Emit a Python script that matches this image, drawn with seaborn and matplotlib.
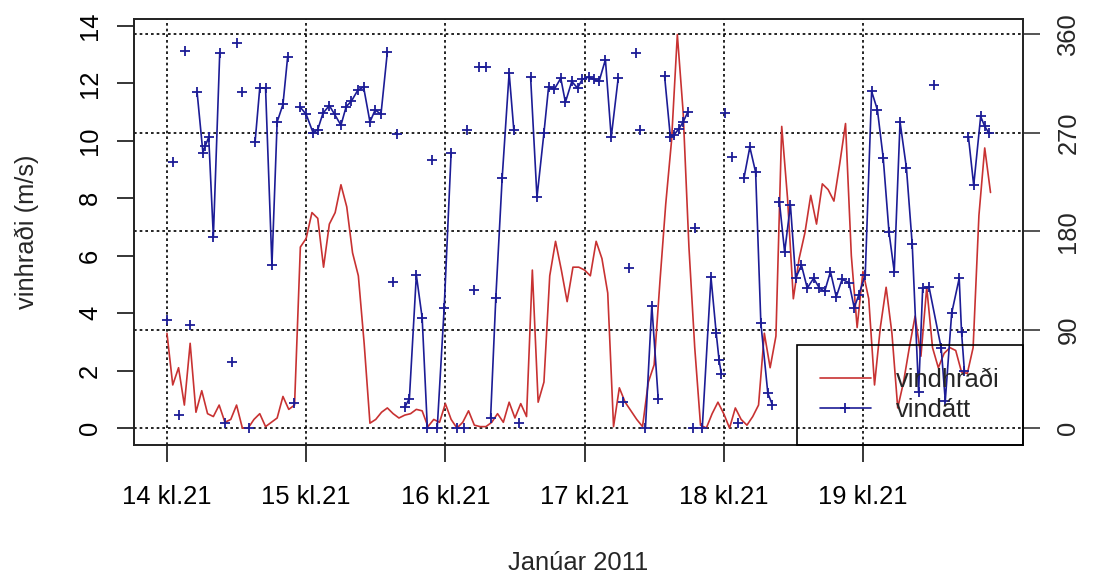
import numpy as np
import pandas as pd
import matplotlib
matplotlib.use("Agg")
import matplotlib.pyplot as plt
import seaborn as sns
from matplotlib.lines import Line2D

nan = np.nan

# vindhraði (m/s), klukkutímagildi frá 14. jan kl.21
speed = [3.3, 1.5, 2.1, 0.8, 2.95, 0.55, 1.3, 0.5, 0.4, 0.8,
         0.2, 0.3, 0.8, 0.0, 0.0, 0.3, 0.5, 0.05, 0.2, 0.35,
         1.1, 0.65, 0.8, 6.3, 6.6, 7.5, 7.3, 5.6, 7.1, 7.5,
         8.47, 7.7, 6.1, 5.3, 2.95, 0.17, 0.3, 0.55, 0.7, 0.5,
         0.35, 0.45, 0.5, 0.65, 0.6, 0.05, 0.3, 0.2, 0.85, 0.3,
         0.0, 0.2, 0.6, 0.1, 0.05, 0.05, 0.2, 0.5, 0.2, 0.9,
         0.35, 0.85, 0.4, 5.5, 0.9, 1.6, 5.3, 6.5, 5.5, 4.4,
         5.6, 5.6, 5.5, 5.3, 6.5, 5.9, 4.7, 0.05, 1.4, 0.9,
         0.6, 0.3, 0.05, 1.6, 2.2, 5.1, 7.8, 10.0, 13.7, 11.0,
         6.3, 2.8, 0.1, 0.0, 0.5, 0.9, 0.5, 0.0, 0.7, 0.3,
         0.1, 0.4, 0.8, 3.3, 2.1, 3.2, 10.5, 8.0, 4.5, 5.9,
         6.8, 8.1, 7.1, 8.5, 8.3, 7.9, 9.2, 10.6, 6.0, 3.5,
         5.45, 4.5, 1.5, 3.5, 4.9, 3.3, 0.7, 1.6, 2.8, 3.9,
         2.5, 4.9, 2.8, 2.1, 2.6, 2.8, 2.7, 1.95, 1.9, 2.8,
         7.4, 9.75, 8.2]

# vindátt (gráður), nan = rof í línunni
dir_hour = [0, nan, 1.1, nan, 2.1, nan, 3.1, nan, 4, nan,
            5.2, 6.2, 6.6, 7.2, 8, 9.1, nan,
            10, nan, 11.2, nan, 12, nan, 13, nan, 14.2, nan,
            15.2, 16, 17, 18.1, 19, 20, 20.8, nan,
            21.9, nan,
            22.9, 24, 25.2, 26, 26.9, 28, 28.9, 30, 30.9, 31.8, 32.9, 33.9, 35, 35.9, 36.9, 38, nan,
            39, nan, 39.7, nan,
            41, 41.8, 43, 44, 44.9, 46.6, 47.8, 49, nan,
            45.7, nan,
            50, 51.2, nan, 51.7, nan, 52.9, nan, 53.8, 55, nan,
            55.8, 56.7, 57.8, 59, 59.8, nan, 60.7, nan,
            62.7, 63.8, 65, 65.8, 66.8, 67.9, 68.7, 69.8, 70.8, 71.6, 72.7, 73.6, 74.5, 75.6, 76.6, 77.8, nan,
            78.7, nan, 79.7, nan, 80.8, nan, 81.6, nan,
            82.5, 83.6, 84.7, nan,
            85.8, 86.8, 87.4, 88.3, 89, 89.8, nan,
            90.7, nan, 91.1, nan,
            92.3, 93.8, 94.7, 95.2, 95.6, nan,
            96.3, nan, 97.5, nan, 98.4, nan,
            99.5, 100.5, 101.5, 102.4, 103.6, 104.4, nan,
            105.6, 106.5, 107.5, 108.4, 109.4, 110.4, 111.5, 112.5, 113.4, 114.4,
            115.4, 116.4, 117.6, 118.5, 119.3, 120.4, 121.5, 122.5, 123.5, 124.5,
            125.4, 126.4, 127.5, 128.5, 129.6, 130.3, 131.4, 133.5, 134.2, 135.3,
            136.6, 137, 137.5, nan,
            132.2, nan,
            138.2, 139.1, 140.3, 141, 141.7]
dir_deg = [99, nan, 243, nan, 12, nan, 345, nan, 94, nan,
           307, 252, 258, 266, 175, 343, nan,
           5, nan, 60, nan, 352, nan, 307, nan, 0, nan,
           262, 311, 311, 149, 280, 296, 339, nan,
           23, nan,
           294, 287, 270, 273, 288, 295, 287, 277, 294, 299, 309, 312, 280, 291, 287, 344, nan,
           134, nan, 269, nan,
           19, 27, 140, 101, 0, 0, 110, 252, nan,
           245, nan,
           0, 0, nan, 273, nan, 126, nan, 330, 330, nan,
           9, 119, 229, 325, 273, nan, 5, nan,
           321, 211, 270, 312, 310, 320, 298, 317, 311, 319, 321, 319, 317, 337, 266, 320, nan,
           24, nan, 146, nan, 343, nan, 273, nan,
           0, 112, 27, nan,
           322, 266, 268, 274, 280, 289, nan,
           0, nan, 183, nan,
           0, 138, 87, 62, 49, nan,
           288, nan, 248, nan, 5, nan,
           229, 257, 234, 96, 32, 21, nan,
           207, 161, 204, 137, 149, 128, 137, 128, 125, 143,
           120, 136, 133, 110, 122, 140, 308, 291, 247, 179,
           143, 280, 238, 168, 33, 128, 129, 73, 25, 105,
           137, 88, 52, nan,
           314, nan,
           266, 222, 285, 276, 270]

day_ticks = [0, 24, 48, 72, 96, 120]
day_labels = ["14 kl.21", "15 kl.21", "16 kl.21", "17 kl.21", "18 kl.21", "19 kl.21"]
dir_ticks = [0, 90, 180, 270, 360]

red = "#c83232"
blue = "#1c1c96"

sns.set_style("ticks")
plt.rcParams["font.family"] = ["Liberation Sans", "DejaVu Sans"]
fs = 18.4

speed_df = pd.DataFrame({"hour": np.arange(len(speed)), "speed": speed})
vmax = max(speed)
dir_df = pd.DataFrame({"hour": dir_hour, "deg": dir_deg})
dir_df["seg"] = dir_df["deg"].isna().cumsum()
dir_df = dir_df.dropna()
dir_df["scaled"] = dir_df["deg"] * vmax / 360

fig = plt.figure(figsize=(10.94, 5.82), dpi=100)
ax = fig.add_axes([0.1225, 0.2354, 0.8126, 0.7320])

# gridlines
dots = (0, (1.6, 1.8))
for t in day_ticks:
    ax.axvline(t, color="black", lw=1.2, ls=dots, zorder=1)
for d in dir_ticks:
    ax.axhline(d * vmax / 360, color="black", lw=1.2, ls=dots, zorder=1)

sns.lineplot(data=speed_df, x="hour", y="speed", color=red, lw=1.2, ax=ax, zorder=3)
sns.lineplot(data=dir_df, x="hour", y="scaled", units="seg", estimator=None, sort=False,
             color=blue, lw=1.2, marker="+", markersize=7,
             markeredgecolor=blue, markeredgewidth=1.3, ax=ax, zorder=4)

ax.set_xlim(-5.68, 147.6)
ax.set_ylim(-0.59, 14.24)
ax.set_xticks(day_ticks)
ax.set_xticklabels(day_labels)
ax.set_yticks(range(0, 15, 2))
ax.tick_params(axis="both", direction="out", length=12, width=1.1, labelsize=fs, colors="black")
ax.tick_params(axis="x", pad=17)
ax.tick_params(axis="y", pad=11)
plt.setp(ax.get_yticklabels(), rotation=90, va="center")
for s in ax.spines.values():
    s.set_linewidth(1.2)
    s.set_color("black")

ax.set_xlabel("Janúar 2011", fontsize=fs)
ax.set_ylabel("vinhraði (m/s)", fontsize=fs)
ax.xaxis.label.set_va("center")
ax.yaxis.label.set_va("center")
ax.xaxis.set_label_coords(0.5, -0.277)
ax.yaxis.set_label_coords(-0.1204, 0.5)

ax2 = ax.twinx()
ax2.set_ylim(ax.get_ylim())
ax2.set_yticks([d * vmax / 360 for d in dir_ticks])
ax2.set_yticklabels([str(d) for d in dir_ticks])
ax2.tick_params(axis="y", direction="out", length=12, width=1.1, labelsize=fs, pad=12)
plt.setp(ax2.get_yticklabels(), rotation=90, va="center")
for s in ax2.spines.values():
    s.set_linewidth(1.2)

handles = [Line2D([], [], color=red, lw=1.2),
           Line2D([], [], color=blue, lw=1.2, marker="+", markersize=7, markeredgewidth=1.3)]
leg = ax2.legend(handles, ["vindhraði", "vindátt"], loc="lower right", bbox_to_anchor=(1, 0),
                 borderaxespad=0, fontsize=fs, fancybox=False, framealpha=1,
                 edgecolor="black", borderpad=0.9, labelspacing=0.25,
                 handlelength=2.0, handletextpad=1.0)
leg.get_frame().set_facecolor("none")
leg.get_frame().set_linewidth(1.2)

fig.savefig("out.png", dpi=100)
